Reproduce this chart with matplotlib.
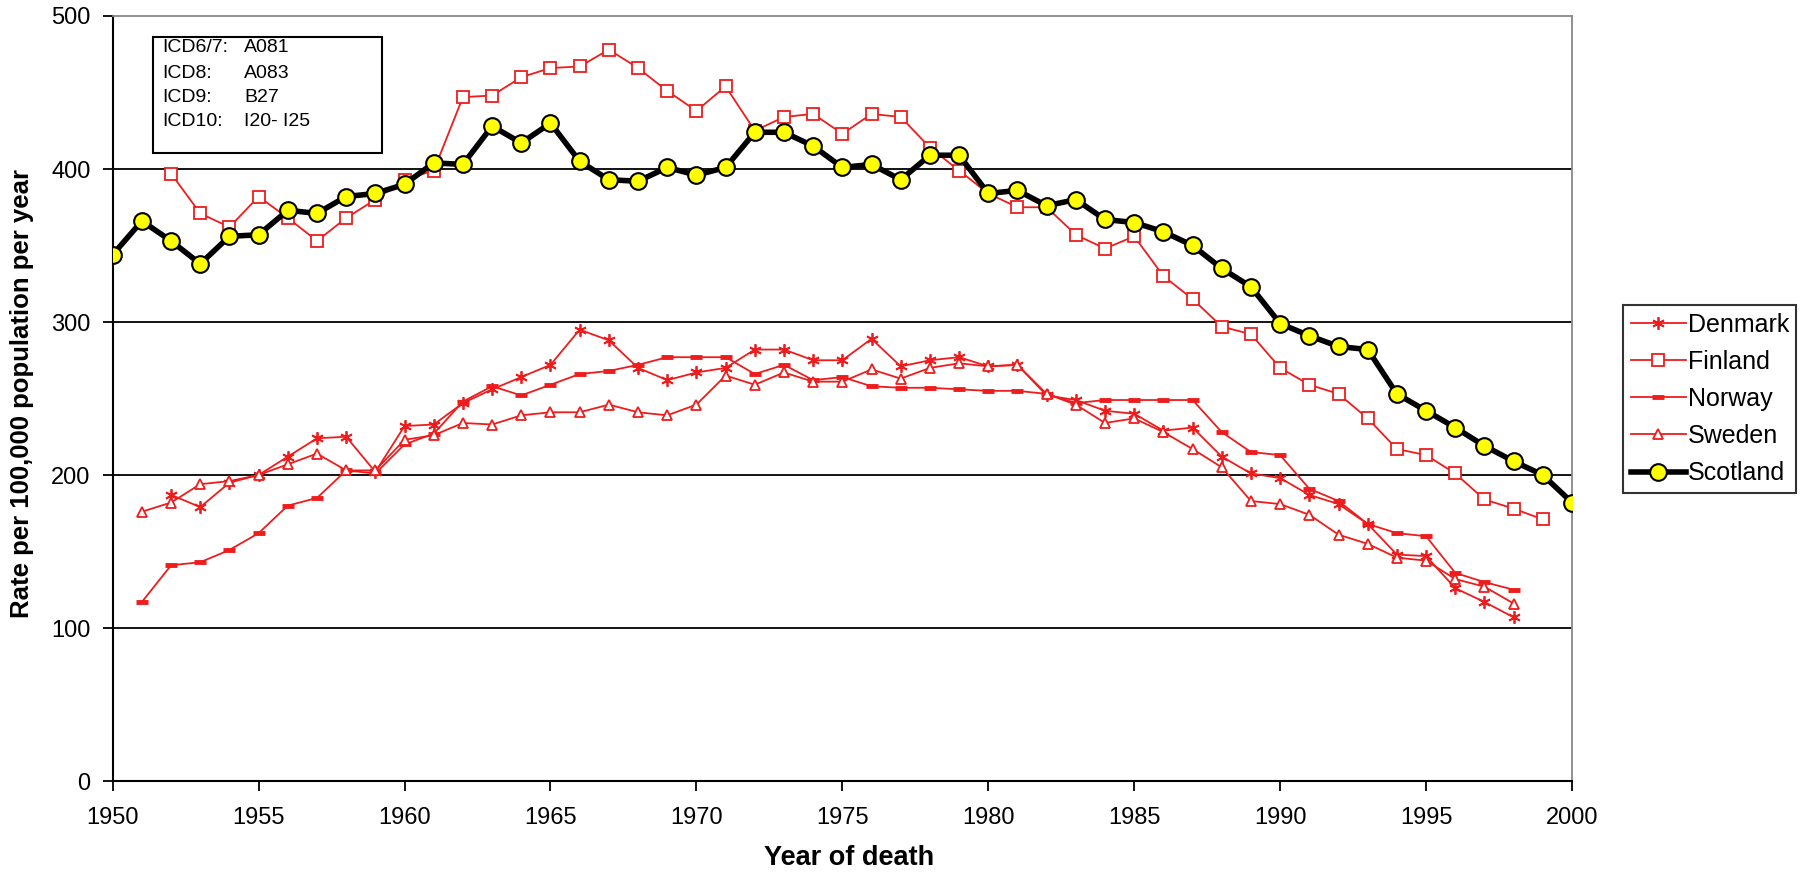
import numpy as np
import matplotlib
matplotlib.use("Agg")
import matplotlib.pyplot as plt
from matplotlib.patches import Rectangle

plt.rcParams['font.family'] = ['Liberation Sans', 'DejaVu Sans']

nan = np.nan
years = list(range(1950, 2001))

scotland = [344, 366, 353, 338, 356, 357, 373, 371, 382, 384,
            390, 404, 403, 428, 417, 430, 405, 393, 392, 401,
            396, 401, 424, 424, 415, 401, 403, 393, 409, 409,
            384, 386, 376, 380, 367, 365, 359, 350, 335, 323,
            299, 291, 284, 282, 253, 242, 231, 219, 209, 200, 182]

finland = [nan, nan, 397, 371, 362, 382, 368, 353, 368, 380,
           393, 399, 447, 448, 460, 466, 467, 478, 466, 451,
           438, 454, 425, 434, 436, 423, 436, 434, 414, 399,
           384, 375, 375, 357, 348, 356, 330, 315, 297, 292,
           270, 259, 253, 237, 217, 213, 201, 184, 178, 171, nan]

denmark = [nan, nan, 187, 179, 195, 200, 212, 224, 225, 202,
           232, 233, 247, 256, 264, 272, 295, 288, 270, 262,
           267, 270, 282, 282, 275, 275, 289, 271, 275, 277,
           271, 272, 252, 249, 242, 240, 229, 231, 212, 201,
           198, 187, 181, 168, 148, 147, 126, 117, 107, nan, nan]

norway = [nan, 117, 141, 143, 151, 162, 180, 185, 203, 201,
          220, 227, 248, 258, 252, 259, 266, 268, 272, 277,
          277, 277, 266, 272, 262, 264, 258, 257, 257, 256,
          255, 255, 253, 247, 249, 249, 249, 249, 228, 215,
          213, 191, 183, 168, 162, 160, 136, 130, 125, nan, nan]

sweden = [nan, 176, 182, 194, 196, 200, 207, 214, 203, 203,
          223, 226, 234, 233, 239, 241, 241, 246, 241, 239,
          246, 265, 259, 267, 261, 261, 269, 263, 270, 273,
          271, 272, 253, 246, 234, 237, 228, 217, 205, 183,
          181, 174, 161, 155, 146, 144, 132, 127, 116, nan, nan]

icd_codes = ["ICD6/7:", "ICD8:", "ICD9:", "ICD10:"]
icd_values = ["A081", "A083", "B27", "I20- I25"]

W, H = 1803, 872
fig = plt.figure(figsize=(W / 100, H / 100), dpi=100)
fig.patch.set_facecolor('white')
ax = fig.add_axes([112.7 / W, 1 - 781 / H, (1572 - 112.7) / W, (781 - 16) / H])

red = '#EE1C1C'
l_den, = ax.plot(years, denmark, color=red, lw=1.3, marker=(6, 2, 0), ms=9, mew=1.3,
                 label='Denmark', zorder=3)
l_fin, = ax.plot(years, finland, color=red, lw=1.3, marker='s', ms=8, mfc='white', mec=red,
                 mew=1.3, label='Finland', zorder=3)
l_nor, = ax.plot(years, norway, color=red, lw=1.3, marker='_', ms=9, mew=3.5,
                 label='Norway', zorder=3)
l_swe, = ax.plot(years, sweden, color=red, lw=1.3, marker='^', ms=7, mfc='white', mec=red,
                 mew=1.3, label='Sweden', zorder=3)
l_sco, = ax.plot(years, scotland, color='black', lw=4, marker='o', ms=12, mfc='#FFFF00',
                 mec='black', mew=1.5, label='Scotland', zorder=4)

ax.set_xlim(1950, 2000)
ax.set_ylim(0, 500)
ax.set_xticks(range(1950, 2001, 5))
ax.set_yticks(range(0, 501, 100))
for yv in [100, 200, 300, 400]:
    ax.axhline(yv, color='black', lw=1.3, zorder=1)
ax.spines['top'].set_color('#888888')
ax.spines['right'].set_color('#888888')
ax.spines['top'].set_linewidth(1.3)
ax.spines['right'].set_linewidth(1.3)
ax.spines['left'].set_linewidth(1.5)
ax.spines['bottom'].set_linewidth(1.5)
ax.tick_params(axis='both', direction='out', length=7, width=1.3, labelsize=17, colors='black')
ax.tick_params(axis='x', pad=12)
ax.tick_params(axis='y', pad=9)

# axis titles placed at the reference positions
fig.text(849 / W, 1 - 858 / H, 'Year of death', fontsize=19.5, fontweight='bold',
         ha='center', va='center')
fig.text(22 / W, 1 - 394 / H, 'Rate per 100,000 population per year', fontsize=18.5,
         fontweight='bold', ha='center', va='center', rotation=90)

# ICD text box
bx0, by0, bx1, by1 = 153, 37, 382, 153
fig.patches.append(Rectangle((bx0 / W, 1 - by1 / H), (bx1 - bx0) / W, (by1 - by0) / H,
                             transform=fig.transFigure, fill=True, facecolor='white',
                             edgecolor='black', lw=1.5, zorder=5))
row_y = [48, 73, 97, 121]
for code, val, ry in zip(icd_codes, icd_values, row_y):
    fig.text(162 / W, 1 - ry / H, code, fontsize=14, va='center', ha='left', zorder=6)
    fig.text(244 / W, 1 - ry / H, val, fontsize=14, va='center', ha='left', zorder=6)

leg = fig.legend(handles=[l_den, l_fin, l_nor, l_swe, l_sco],
                 loc='upper left', bbox_to_anchor=(1623 / W, 1 - 305 / H),
                 frameon=True, fancybox=False, edgecolor='black', fontsize=18,
                 handlelength=2.2, handletextpad=0.08, labelspacing=0.53,
                 borderpad=0.3, borderaxespad=0)
leg.get_frame().set_linewidth(1.5)

fig.savefig('out.png', dpi=100, facecolor='white')
